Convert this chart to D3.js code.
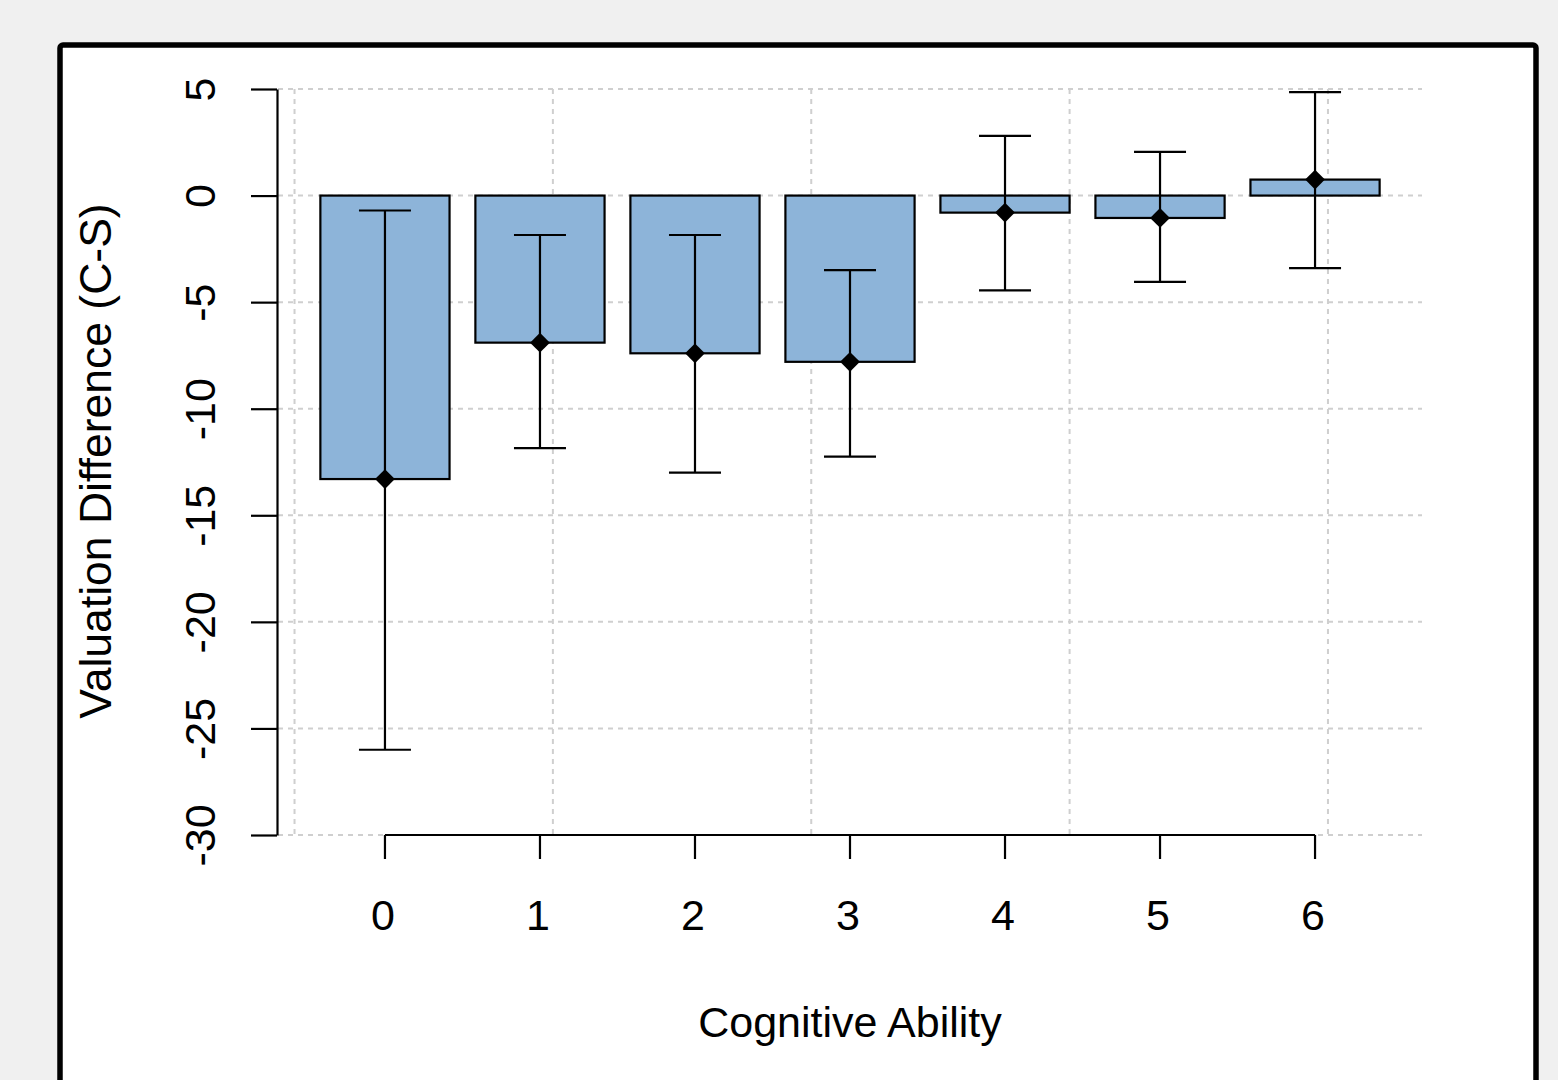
<html>
<meta charset="utf-8">
<script src="https://cdn.jsdelivr.net/npm/d3@7"></script>
<style>
  body { margin: 0; background: #f0f0f0; }
  svg text { font-family: "Liberation Sans", Arial, sans-serif; fill: #000; }
</style>
<body>
<div id="chart"></div>
<script>

// data
var abilities = ["0", "1", "2", "3", "4", "5", "6"]
var means = [-13.3, -6.9, -7.4, -7.8, -0.8, -1.05, 0.75]
var upper = [-0.7, -1.85, -1.85, -3.5, 2.8, 2.05, 4.85]
var lower = [-26.0, -11.85, -13.0, -12.25, -4.45, -4.05, -3.4]
var yTicks = [5, 0, -5, -10, -15, -20, -25, -30]
var xGrid = [0, 2, 4, 6, 8]

var W = 1558, H = 1080
var plot = {left: 278, right: 1422, top: 89, bottom: 835}
var barFill = "#8db4d9"
var fontSize = 43

var svg = d3.select("#chart").append("svg")
  .attr("width", W).attr("height", H)

// panel
svg.append("rect")
  .attr("x", 60).attr("y", 45)
  .attr("width", 1476).attr("height", 1060)
  .attr("rx", 3)
  .attr("fill", "white").attr("stroke", "black").attr("stroke-width", 5.5)

// barplot user coords (like R's usr)
var xu = d3.scaleLinear().domain([-0.128, 8.728]).range([plot.left, plot.right])
var y = d3.scaleLinear().domain([-30, 5]).range([plot.bottom, plot.top])
var x = d3.scaleBand().domain(abilities)
  .range([xu(0.1), xu(8.5)])
  .paddingInner(0.2 / 1.2).paddingOuter(0.1 / 1.2)

// grid
var grid = svg.append("g").attr("stroke", "#cfcfcf").attr("stroke-width", 2).attr("stroke-dasharray", "5,5")
grid.selectAll("line.h").data(yTicks).enter().append("line")
  .attr("x1", plot.left).attr("x2", plot.right)
  .attr("y1", function(d){ return y(d) }).attr("y2", function(d){ return y(d) })
grid.selectAll("line.v").data(xGrid).enter().append("line")
  .attr("x1", function(d){ return xu(d) }).attr("x2", function(d){ return xu(d) })
  .attr("y1", plot.top).attr("y2", plot.bottom)

// bars
svg.append("g").selectAll("rect").data(abilities).enter().append("rect")
  .attr("x", function(d){ return x(d) })
  .attr("width", x.bandwidth())
  .attr("y", function(d, i){ return y(Math.max(0, means[i])) })
  .attr("height", function(d, i){ return Math.abs(y(means[i]) - y(0)) })
  .attr("fill", barFill).attr("stroke", "black").attr("stroke-width", 2.2)

// error bars
var cap = 26
var eb = svg.append("g").attr("stroke", "black").attr("stroke-width", 2.2)
abilities.forEach(function(d, i){
  var cx = x(d) + x.bandwidth() / 2
  eb.append("line").attr("x1", cx).attr("x2", cx).attr("y1", y(upper[i])).attr("y2", y(lower[i]))
  eb.append("line").attr("x1", cx - cap).attr("x2", cx + cap).attr("y1", y(upper[i])).attr("y2", y(upper[i]))
  eb.append("line").attr("x1", cx - cap).attr("x2", cx + cap).attr("y1", y(lower[i])).attr("y2", y(lower[i]))
})

// mean points (filled diamonds)
svg.append("g").selectAll("path").data(abilities).enter().append("path")
  .attr("d", d3.symbol().type(d3.symbolDiamond2).size(250))
  .attr("transform", function(d, i){ return "translate(" + (x(d) + x.bandwidth() / 2) + "," + y(means[i]) + ")" })
  .attr("fill", "black")

// y axis
var yAxis = svg.append("g").attr("transform", "translate(" + (plot.left - 1) + ",0)")
  .call(d3.axisLeft(y).tickValues(yTicks).tickSize(26).tickSizeOuter(0).tickFormat(d3.format("d")))
yAxis.select(".domain").attr("stroke-width", 2.2)
yAxis.selectAll(".tick line").attr("stroke-width", 2.2)
yAxis.selectAll(".tick text")
  .attr("font-size", fontSize)
  .attr("x", 0).attr("dy", 0)
  .attr("text-anchor", "middle")
  .attr("transform", "translate(-62,0) rotate(-90)")
  .text(function(d){ return d3.format("d")(d).replace("−", "-") })

// x axis
var first = x(abilities[0]) + x.bandwidth() / 2
var last = x(abilities[abilities.length - 1]) + x.bandwidth() / 2
var xAxis = svg.append("g").attr("transform", "translate(0," + plot.bottom + ")")
xAxis.append("line").attr("x1", first).attr("x2", last).attr("stroke", "black").attr("stroke-width", 2.2)
xAxis.selectAll("line.t").data(abilities).enter().append("line")
  .attr("x1", function(d){ return x(d) + x.bandwidth() / 2 })
  .attr("x2", function(d){ return x(d) + x.bandwidth() / 2 })
  .attr("y1", 0).attr("y2", 24)
  .attr("stroke", "black").attr("stroke-width", 2.2)
xAxis.selectAll("text").data(abilities).enter().append("text")
  .attr("x", function(d){ return x(d) + x.bandwidth() / 2 - 2 })
  .attr("y", 95)
  .attr("text-anchor", "middle")
  .attr("font-size", fontSize)
  .text(function(d){ return d })

// titles
svg.append("text")
  .attr("x", (plot.left + plot.right) / 2).attr("y", 1037)
  .attr("text-anchor", "middle").attr("font-size", fontSize)
  .text("Cognitive Ability")
svg.append("text")
  .attr("transform", "translate(111,461) rotate(-90)")
  .attr("text-anchor", "middle").attr("font-size", 44.5)
  .text("Valuation Difference (C-S)")

</script>
</body>
</html>
